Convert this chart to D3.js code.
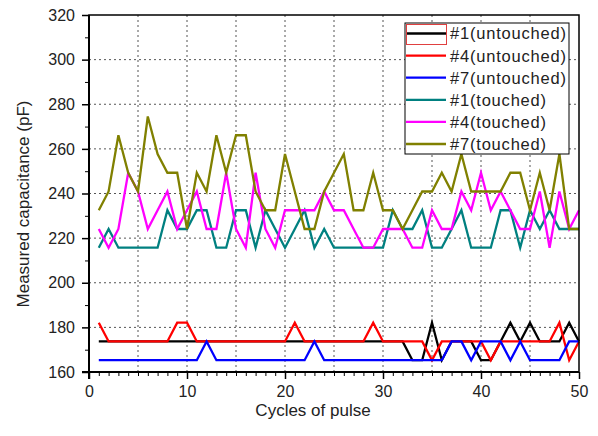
<!DOCTYPE html>
<html>
<head>
<meta charset="utf-8">
<script src="https://cdn.jsdelivr.net/npm/d3@7"></script>
<style>
  body { margin: 0; background: #fff; }
  svg { font-family: Arial, 'Liberation Sans', sans-serif; }
  .grid line { stroke: #555; stroke-width: 1; stroke-dasharray: 2,3; }
  .axis path, .axis line { stroke: #000; }
  .axis text { font-size: 16px; fill: #222; }
</style>
</head>
<body>
<svg id="chart" width="598" height="436"></svg>
<script>
// values, cycles 1..50
var cycles = d3.range(1, 51)
var seriesNames = ['#1(untouched)', '#4(untouched)', '#7(untouched)', '#1(touched)', '#4(touched)', '#7(touched)']
var seriesColors = ['#000000', '#ff0000', '#0000ff', '#008080', '#ff00ff', '#808000']

var untouched1 = [173.7, 173.7, 173.7, 173.7, 173.7, 173.7, 173.7, 173.7, 173.7, 173.7,
    173.7, 173.7, 173.7, 173.7, 173.7, 173.7, 173.7, 173.7, 173.7, 173.7,
    173.7, 173.7, 173.7, 173.7, 173.7, 173.7, 173.7, 173.7, 173.7, 173.7,
    173.7, 173.7, 165.3, 165.3, 182.1, 165.3, 173.7, 173.7, 173.7, 165.3,
    165.3, 173.7, 182.1, 173.7, 182.1, 173.7, 173.7, 173.7, 182.1, 173.7]
var untouched4 = [182.1, 173.7, 173.7, 173.7, 173.7, 173.7, 173.7, 173.7, 182.1, 182.1,
    173.7, 173.7, 173.7, 173.7, 173.7, 173.7, 173.7, 173.7, 173.7, 173.7,
    182.1, 173.7, 173.7, 173.7, 173.7, 173.7, 173.7, 173.7, 182.1, 173.7,
    173.7, 173.7, 173.7, 173.7, 165.3, 173.7, 173.7, 173.7, 173.7, 173.7,
    165.3, 173.7, 173.7, 173.7, 173.7, 173.7, 173.7, 182.1, 165.3, 173.7]
var untouched7 = [165.3, 165.3, 165.3, 165.3, 165.3, 165.3, 165.3, 165.3, 165.3, 165.3,
    165.3, 173.7, 165.3, 165.3, 165.3, 165.3, 165.3, 165.3, 165.3, 165.3,
    165.3, 165.3, 173.7, 165.3, 165.3, 165.3, 165.3, 165.3, 165.3, 165.3,
    165.3, 165.3, 165.3, 165.3, 165.3, 165.3, 173.7, 173.7, 165.3, 173.7,
    173.7, 173.7, 165.3, 173.7, 165.3, 165.3, 165.3, 165.3, 173.7, 173.7]
var touched1 = [215.7, 224.1, 215.7, 215.7, 215.7, 215.7, 215.7, 232.5, 224.1, 224.1,
    232.5, 232.5, 215.7, 215.7, 232.5, 232.5, 215.7, 232.5, 224.1, 215.7,
    224.1, 232.5, 215.7, 224.1, 215.7, 215.7, 215.7, 215.7, 215.7, 215.7,
    232.5, 224.1, 224.1, 232.5, 215.7, 215.7, 224.1, 232.5, 215.7, 215.7,
    215.7, 232.5, 232.5, 215.7, 232.5, 224.1, 232.5, 224.1, 224.1, 224.1]
var touched4 = [224.1, 215.7, 224.1, 249.3, 240.9, 224.1, 232.5, 240.9, 224.1, 232.5,
    240.9, 224.1, 224.1, 249.3, 224.1, 215.7, 249.3, 224.1, 215.7, 232.5,
    232.5, 232.5, 232.5, 240.9, 232.5, 232.5, 224.1, 215.7, 215.7, 224.1,
    224.1, 224.1, 215.7, 215.7, 232.5, 224.1, 224.1, 240.9, 232.5, 249.3,
    232.5, 240.9, 232.5, 224.1, 224.1, 240.9, 215.7, 240.9, 224.1, 232.5]
var touched7 = [232.5, 240.9, 266.1, 249.3, 240.9, 274.5, 257.7, 249.3, 249.3, 224.1,
    249.3, 240.9, 266.1, 249.3, 266.1, 266.1, 240.9, 232.5, 232.5, 257.7,
    240.9, 224.1, 224.1, 240.9, 249.3, 257.7, 232.5, 232.5, 249.3, 232.5,
    232.5, 224.1, 232.5, 240.9, 240.9, 249.3, 240.9, 257.7, 240.9, 240.9,
    240.9, 240.9, 249.3, 249.3, 232.5, 249.3, 232.5, 257.7, 224.1, 224.1]

var seriesValues = [untouched1, untouched4, untouched7, touched1, touched4, touched7]

var yTicks = d3.range(160, 321, 20)
var xTicks = d3.range(0, 51, 10)

var plot = { left: 89, right: 579, top: 15, bottom: 372 }

var svg = d3.select('#chart')

var xScale = d3.scaleLinear().domain([0, 50]).range([plot.left, plot.right])
var yScale = d3.scaleLinear().domain([160, 320]).range([plot.bottom, plot.top])

// dotted grid
var grid = svg.append('g').attr('class', 'grid')
grid.selectAll('line.gx')
    .data(d3.range(5, 50, 5))
    .enter().append('line')
    .attr('class', 'gx')
    .attr('x1', xScale).attr('x2', xScale)
    .attr('y1', plot.top).attr('y2', plot.bottom)
grid.selectAll('line.gy')
    .data(yTicks.filter(function (v) { return v > 160 && v < 320 }))
    .enter().append('line')
    .attr('class', 'gy')
    .attr('x1', plot.left).attr('x2', plot.right)
    .attr('y1', yScale).attr('y2', yScale)

// lines
var line = d3.line()
    .x(function (d, i) { return xScale(cycles[i]) })
    .y(function (d) { return yScale(d) })

svg.append('g')
    .selectAll('path')
    .data(seriesValues)
    .enter().append('path')
    .attr('d', line)
    .attr('fill', 'none')
    .attr('stroke', function (_, i) { return seriesColors[i] })
    .attr('stroke-width', 2.3)
    .attr('stroke-linejoin', 'miter')

// frame (top/right)
svg.append('rect')
    .attr('x', plot.left).attr('y', plot.top)
    .attr('width', plot.right - plot.left).attr('height', plot.bottom - plot.top)
    .attr('fill', 'none').attr('stroke', '#000').attr('stroke-width', 1.5)

// axes
var xAxis = svg.append('g').attr('class', 'axis')
    .attr('transform', 'translate(0,' + plot.bottom + ')')
    .call(d3.axisBottom(xScale).tickValues(d3.range(0, 51, 1)).tickSize(4).tickFormat(''))
xAxis.select('.domain').remove()
svg.append('g').attr('class', 'axis')
    .attr('transform', 'translate(0,' + plot.bottom + ')')
    .call(d3.axisBottom(xScale).tickValues(xTicks).tickSize(7).tickPadding(7))
    .call(function (g) { g.select('.domain').attr('stroke-width', 2).attr('d', 'M' + (plot.left - 7) + ',0H' + plot.right) })
    .selectAll('line').attr('stroke-width', 1.5)

var yMinor = svg.append('g').attr('class', 'axis')
    .attr('transform', 'translate(' + plot.left + ',0)')
    .call(d3.axisLeft(yScale).tickValues(d3.range(170, 320, 20)).tickSize(4).tickFormat(''))
yMinor.select('.domain').remove()
svg.append('g').attr('class', 'axis')
    .attr('transform', 'translate(' + plot.left + ',0)')
    .call(d3.axisLeft(yScale).tickValues(yTicks).tickSize(7).tickPadding(7))
    .call(function (g) { g.select('.domain').attr('stroke-width', 2).attr('d', 'M0,' + plot.top + 'V' + (plot.bottom + 7)) })
    .selectAll('line').attr('stroke-width', 1.5)

svg.selectAll('.axis text').attr('fill', '#222')

// axis titles
svg.append('text')
    .attr('x', 313).attr('y', 416)
    .attr('text-anchor', 'middle')
    .attr('font-size', 17).attr('fill', '#222')
    .text('Cycles of pulse')
svg.append('text')
    .attr('transform', 'translate(29,204) rotate(-90)')
    .attr('text-anchor', 'middle')
    .attr('font-size', 17).attr('fill', '#222')
    .text('Measured capacitance (pF)')

// legend
var legend = svg.append('g').attr('transform', 'translate(405,23)')
legend.append('rect')
    .attr('width', 164).attr('height', 131)
    .attr('fill', '#fff').attr('stroke', '#000').attr('stroke-width', 1)
var items = legend.selectAll('g.item')
    .data(seriesNames)
    .enter().append('g')
    .attr('class', 'item')
    .attr('transform', function (_, i) { return 'translate(0,' + (10.5 + i * 22.1) + ')' })
items.append('line')
    .attr('x1', 1).attr('x2', 41)
    .attr('stroke', function (_, i) { return seriesColors[i] })
    .attr('stroke-width', 2.3)
items.append('text')
    .attr('x', 45).attr('dy', '0.36em')
    .attr('font-size', 16.5).attr('fill', '#222')
    .attr('letter-spacing', 0.8)
    .text(function (d) { return d })
legend.append('rect')
    .attr('x', 1.5).attr('y', 1.5).attr('width', 40).attr('height', 20)
    .attr('fill', 'none').attr('stroke', '#e04040').attr('stroke-width', 1)
</script>
</body>
</html>
